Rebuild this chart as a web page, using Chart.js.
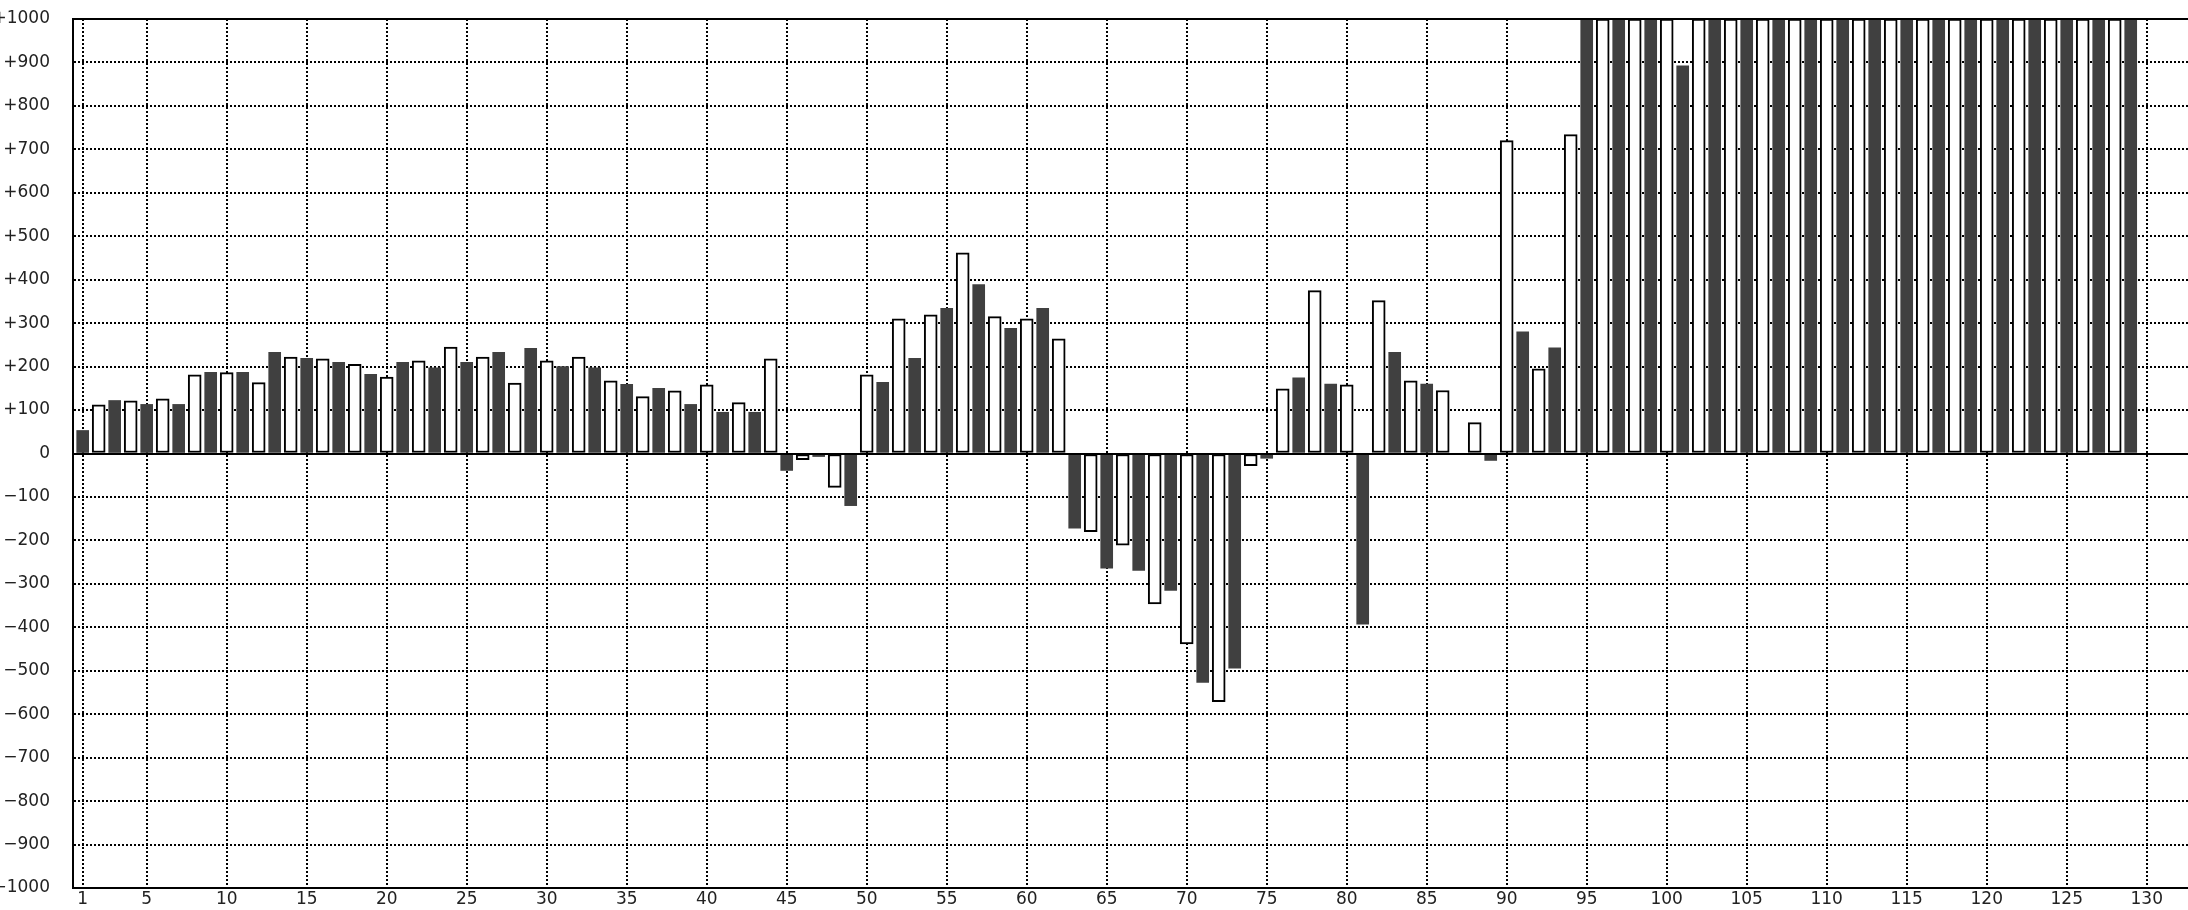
<!DOCTYPE html>
<html>
<head>
<meta charset="utf-8">
<script src="https://cdn.jsdelivr.net/npm/chart.js@4/dist/chart.umd.min.js"></script>
<style>
  html, body { margin: 0; padding: 0; background: #fff; overflow: hidden; }
  #c { display: block; }
</style>
</head>
<body>
<canvas id="c" width="2188" height="910"></canvas>
<script>
// ---- data ----
const values = [
  53, 112, 122, 121, 113, 126, 113, 181, 187, 186,
  187, 163, 233, 222, 219, 218, 210, 205, 182, 176,
  210, 213, 197, 245, 210, 222, 233, 162, 242, 213,
  200, 222, 197, 167, 159, 131, 150, 144, 113, 158,
  95, 117, 95, 218, -39, -14, -7, -78, -120, 181,
  164, 310, 219, 319, 334, 462, 389, 315, 288, 310,
  334, 264, -172, -180, -264, -211, -269, -346, -315, -438,
  -527, -571, -494, -28, -11, 149, 174, 375, 160, 158,
  -393, 352, 233, 167, 160, 145, 0, 71, -16, 720,
  280, 195, 243, 734, 1000, 1000, 1000, 1000, 1000, 1000,
  892, 1000, 1000, 1000, 1000, 1000, 1000, 1000, 1000, 1000,
  1000, 1000, 1000, 1000, 1000, 1000, 1000, 1000, 1000, 1000,
  1000, 1000, 1000, 1000, 1000, 1000, 1000, 1000, 1000, null
];
const categories = values.map((_, i) => i + 1);
const xTickValues = [1, 5, 10, 15, 20, 25, 30, 35, 40, 45, 50, 55, 60, 65, 70, 75, 80, 85, 90, 95, 100, 105, 110, 115, 120, 125, 130];
const yTickValues = [-1000, -900, -800, -700, -600, -500, -400, -300, -200, -100, 0, 100, 200, 300, 400, 500, 600, 700, 800, 900, 1000];

const oddPoints = categories.filter(c => c % 2 === 1).map(c => ({ x: c, y: values[c - 1] }));
const evenPoints = categories.filter(c => c % 2 === 0).map(c => ({ x: c, y: values[c - 1] }));

const fmtY = v => v > 0 ? '+' + v : (v < 0 ? '\u2212' + Math.abs(v) : '0');

const framePlugin = {
  id: 'frame',
  afterDatasetsDraw(chart) {
    const { ctx, chartArea, scales } = chart;
    ctx.save();
    ctx.strokeStyle = '#000';
    ctx.lineWidth = 2;
    ctx.beginPath();
    const y0 = Math.round(scales.y.getPixelForValue(0));
    ctx.moveTo(chartArea.left, y0);
    ctx.lineTo(chartArea.right, y0);
    const yt = Math.round(chartArea.top);
    ctx.moveTo(chartArea.left - 1, yt);
    ctx.lineTo(chartArea.right, yt);
    ctx.stroke();
    ctx.restore();
  }
};

function noPad(scale) {
  scale.paddingTop = 0;
  scale.paddingBottom = 0;
  scale.paddingLeft = 0;
  scale.paddingRight = 0;
}

new Chart(document.getElementById('c'), {
  type: 'bar',
  data: {
    datasets: [
      {
        label: 'odd',
        data: oddPoints,
        backgroundColor: '#404040',
        borderWidth: 0,
        barThickness: 12,
        grouped: false
      },
      {
        label: 'even',
        data: evenPoints,
        backgroundColor: '#ffffff',
        borderColor: '#000000',
        borderWidth: 2,
        borderSkipped: false,
        barThickness: 13,
        grouped: false
      }
    ]
  },
  options: {
    responsive: false,
    animation: false,
    devicePixelRatio: 1,
    layout: { padding: { top: 19, left: 0, right: 0, bottom: 0 } },
    plugins: { legend: { display: false }, tooltip: { enabled: false } },
    scales: {
      x: {
        type: 'linear',
        min: 0.394,
        max: 132.58,
        offset: false,
        afterFit(scale) { scale.height = 22; noPad(scale); },
        afterBuildTicks(scale) { scale.ticks = xTickValues.map(v => ({ value: v })); },
        ticks: {
          autoSkip: false,
          maxRotation: 0,
          padding: 1,
          color: '#222',
          font: { family: 'DejaVu Sans', size: 17 },
          callback: v => String(v)
        },
        grid: { color: '#000', lineWidth: 2, drawTicks: false, offset: false },
        border: { display: true, color: '#000', width: 2, dash: [2, 2] }
      },
      y: {
        type: 'linear',
        min: -1000,
        max: 1000,
        afterFit(scale) { scale.width = 73; noPad(scale); },
        afterBuildTicks(scale) { scale.ticks = yTickValues.map(v => ({ value: v })); },
        ticks: {
          autoSkip: false,
          padding: 23,
          color: '#222',
          font: { family: 'DejaVu Sans', size: 17 },
          callback: v => fmtY(v)
        },
        grid: { color: '#000', lineWidth: 2, drawTicks: false, offset: false },
        border: { display: true, color: '#000', width: 2, dash: [2, 2] }
      }
    }
  },
  plugins: [framePlugin]
});
</script>
</body>
</html>
